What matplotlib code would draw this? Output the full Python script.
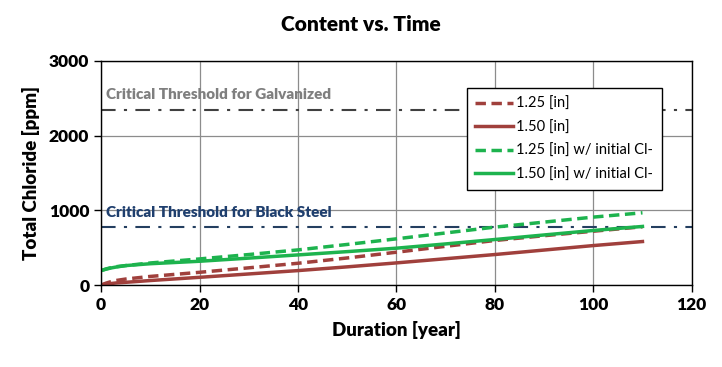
import matplotlib
matplotlib.use("Agg")
import matplotlib.pyplot as plt

plt.rcParams['font.family'] = ['Lato', 'DejaVu Sans']

years = [0, 1, 2, 3, 5, 10, 20, 30, 40, 50, 60, 70, 80, 90, 100, 110]
red_dashed = [0, 25, 45, 60, 80, 115, 170, 230, 291, 362, 439, 518, 596, 660, 720, 780]
red_solid = [0, 12, 20, 27, 36, 60, 103, 148, 193, 243, 296, 352, 408, 468, 528, 582]
green_dashed = [193, 215, 232, 245, 260, 295, 349, 408, 470, 543, 618, 697, 775, 842, 909, 967]
green_solid = [193, 212, 228, 240, 260, 285, 318, 360, 403, 447, 493, 550, 609, 670, 730, 784]

galv_threshold = 2340
black_threshold = 775

red = '#A0403C'
green = '#1DB34E'
HEAVY = 'heavy'

fig = plt.figure(figsize=(7.22, 3.67), dpi=100)
ax = fig.add_axes([0.140, 0.2234, 0.818, 0.6106])

ax.plot(years, red_dashed, color=red, lw=2.5, ls=(0, (3, 1.6)), label='1.25 [in]')
ax.plot(years, red_solid, color=red, lw=2.5, label='1.50 [in]')
ax.plot(years, green_dashed, color=green, lw=2.5, ls=(0, (3, 1.6)), label='1.25 [in] w/ initial Cl-')
ax.plot(years, green_solid, color=green, lw=2.5, label='1.50 [in] w/ initial Cl-')

ax.axhline(galv_threshold, color='#404040', lw=1.5, ls=(0, (7, 4, 1.5, 4)), zorder=1.5)
ax.axhline(black_threshold, color='#243F60', lw=1.5, ls=(0, (7, 4, 1.5, 4)), zorder=1.5)
ax.text(1, 2545, 'Critical Threshold for Galvanized', color='#7F7F7F',
        fontsize=11, fontweight=HEAVY, va='center', ha='left')
ax.text(1, 975, 'Critical Threshold for Black Steel', color='#1F3F6E',
        fontsize=11, fontweight=HEAVY, va='center', ha='left')

ax.set_xlim(0, 120)
ax.set_ylim(0, 3000)
ax.set_xticks(range(0, 121, 20))
ax.set_yticks(range(0, 3001, 1000))
ax.grid(True, color='#8C8C8C', lw=0.9)
ax.set_axisbelow(True)
for s in ax.spines.values():
    s.set_color('black')
    s.set_linewidth(1.0)
ax.tick_params(direction='out', length=5, width=1, labelsize=12.5)
for lbl in ax.get_xticklabels() + ax.get_yticklabels():
    lbl.set_fontweight(HEAVY)

ax.set_xlabel('Duration [year]', fontsize=13.5, fontweight=HEAVY, labelpad=6)
ax.set_ylabel('Total Chloride [ppm]', fontsize=13.5, fontweight=HEAVY, labelpad=6)
fig.suptitle('Content vs. Time', fontsize=15, fontweight=HEAVY, y=0.96)

leg = ax.legend(loc='upper left', bbox_to_anchor=(0.619, 0.879), fontsize=10.5,
                frameon=True, fancybox=False, edgecolor='black', framealpha=1,
                handlelength=2.6, handletextpad=0.2, labelspacing=0.65, borderpad=0.6,
                borderaxespad=0)
leg.get_frame().set_linewidth(1.0)

fig.savefig('out.png', dpi=100)
